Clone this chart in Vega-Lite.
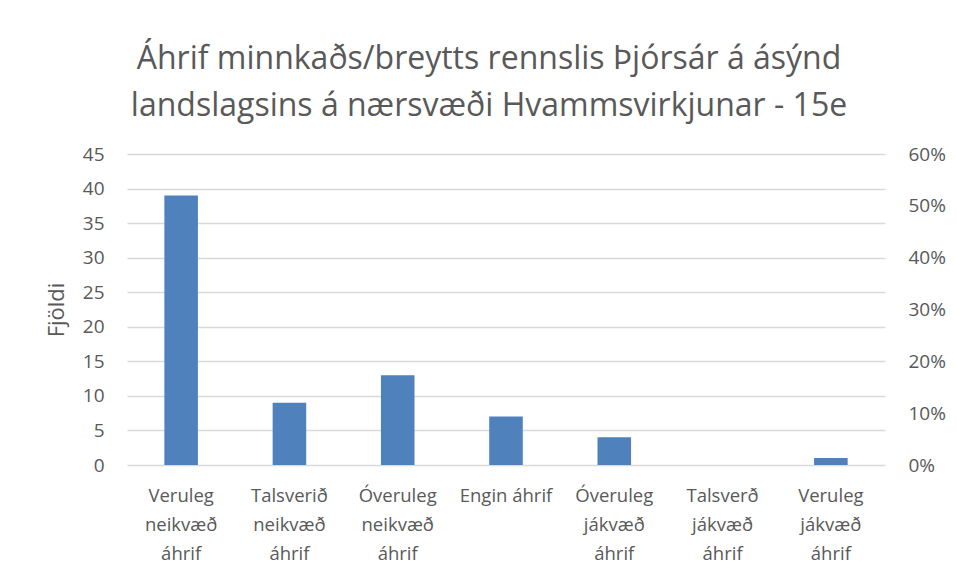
{
  "$schema": "https://vega.github.io/schema/vega-lite/v6.json",
  "autosize": {"type": "none"},
  "width": 758,
  "height": 311,
  "padding": {"left": 127, "top": 154, "right": 72, "bottom": 113},
  "background": "white",
  "config": {
    "font": "Open Sans",
    "view": {"stroke": null}
  },
  "title": {
    "text": ["Áhrif minnkaðs/breytts rennslis Þjórsár á ásýnd", "landslagsins á nærsvæði Hvammsvirkjunar - 15e"],
    "font": "Open Sans",
    "fontSize": 32,
    "fontWeight": "normal",
    "color": "#595959",
    "lineHeight": 47,
    "anchor": "middle",
    "frame": "group",
    "dx": -17,
    "offset": 22
  },
  "data": {
    "values": [
      {"cat": "Veruleg|neikvæð|áhrif", "n": 39, "pct": 0.534},
      {"cat": "Talsverið|neikvæð|áhrif", "n": 9, "pct": 0.123},
      {"cat": "Óveruleg|neikvæð|áhrif", "n": 13, "pct": 0.178},
      {"cat": "Engin áhrif", "n": 7, "pct": 0.096},
      {"cat": "Óveruleg|jákvæð|áhrif", "n": 4, "pct": 0.055},
      {"cat": "Talsverð|jákvæð|áhrif", "n": 0, "pct": 0},
      {"cat": "Veruleg|jákvæð|áhrif", "n": 1, "pct": 0.014}
    ]
  },
  "encoding": {
    "x": {
      "field": "cat",
      "type": "nominal",
      "sort": null,
      "scale": {"paddingInner": 0.69, "paddingOuter": 0.345},
      "axis": {
        "title": null,
        "labelAngle": 0,
        "labelExpr": "split(datum.label, '|')",
        "labelFont": "Open Sans",
        "labelFontSize": 18.5,
        "labelColor": "#595959",
        "labelLineHeight": 29,
        "labelPadding": 21,
        "labelBaseline": "top",
        "labelLimit": 200,
        "ticks": false,
        "domain": false
      }
    }
  },
  "layer": [
    {
      "mark": {"type": "bar", "color": "#4f81bd"},
      "encoding": {
        "y": {
          "field": "n",
          "type": "quantitative",
          "scale": {"domain": [0, 45]},
          "axis": {
            "title": "Fjöldi",
            "titleFont": "Open Sans",
            "titleFontSize": 22,
            "titleFontWeight": "normal",
            "titleColor": "#595959",
            "titlePadding": 14,
            "values": [0, 5, 10, 15, 20, 25, 30, 35, 40, 45],
            "labelFont": "Open Sans",
            "labelFontSize": 19,
            "labelColor": "#595959",
            "labelPadding": 23,
            "ticks": false,
            "domain": false,
            "gridColor": "#d9d9d9",
            "gridWidth": 1.3
          }
        }
      }
    },
    {
      "mark": {"type": "point", "opacity": 0},
      "encoding": {
        "y": {
          "field": "pct",
          "type": "quantitative",
          "scale": {"domain": [0, 0.6]},
          "axis": {
            "orient": "right",
            "title": null,
            "format": ".0%",
            "values": [0, 0.1, 0.2, 0.3, 0.4, 0.5, 0.6],
            "labelFont": "Open Sans",
            "labelFontSize": 19,
            "labelColor": "#595959",
            "labelPadding": 23,
            "ticks": false,
            "domain": false,
            "grid": false
          }
        }
      }
    }
  ],
  "resolve": {"scale": {"y": "independent"}}
}
